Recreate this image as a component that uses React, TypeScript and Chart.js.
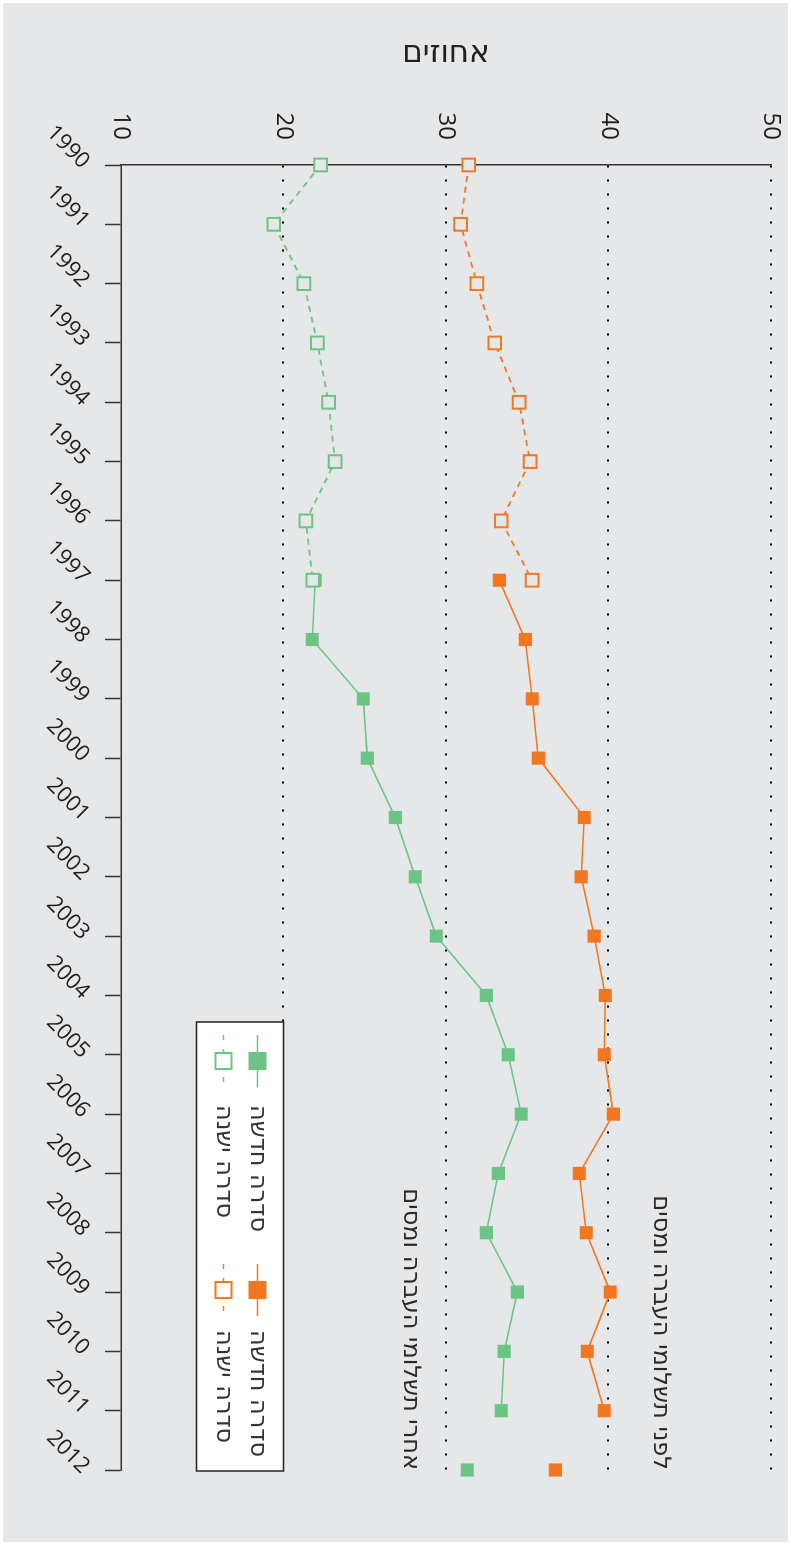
import React, { useEffect, useRef } from 'react';
import { Chart, registerables } from 'chart.js';

Chart.register(...registerables);

// ---------- data ----------
const years = [
  '1990', '1991', '1992', '1993', '1994', '1995', '1996', '1997', '1998', '1999', '2000',
  '2001', '2002', '2003', '2004', '2005', '2006', '2007', '2008', '2009', '2010', '2011', '2012',
];

// after transfer payments and taxes (green)
const greenOld = [22.28, 19.4, 21.26, 22.08, 22.77, 23.17, 21.38, 21.8,
  null, null, null, null, null, null, null, null, null, null, null, null, null, null, null];
const greenNew = [null, null, null, null, null, null, null,
  21.95, 21.77, 24.91, 25.16, 26.88, 28.11, 29.4, 32.48, 33.83, 34.63, 33.22, 32.48, 34.39, 33.58, 33.4, null];
const greenLast = [null, null, null, null, null, null, null, null, null, null, null,
  null, null, null, null, null, null, null, null, null, null, null, 31.31];

// before transfer payments and taxes (orange)
const orangeOld = [31.4, 30.9, 31.9, 33.0, 34.5, 35.17, 33.4, 35.3,
  null, null, null, null, null, null, null, null, null, null, null, null, null, null, null];
const orangeNew = [null, null, null, null, null, null, null,
  33.28, 34.88, 35.31, 35.68, 38.51, 38.32, 39.12, 39.8, 39.74, 40.3, 38.2, 38.63, 40.11, 38.69, 39.74, null];
const orangeLast = [null, null, null, null, null, null, null, null, null, null, null,
  null, null, null, null, null, null, null, null, null, null, null, 36.73];

const yTitle = 'אחוזים';
const legendLabels = ['סדרה חדשה', 'סדרה ישנה'];
const annotationTexts = ['לפני תשלומי העברה ומסים', 'אחרי תשלומי העברה ומסים'];
const annotationValues = [43.2, 27.8];

// ---------- styles ----------
const GREEN = 'rgb(108,196,132)';
const ORANGE = 'rgb(243,119,33)';
const BG = 'rgb(230,231,233)';
const AXIS = '#333';
const TEXT = '#1e1e1e';
const FONT = '"Open Sans", "Liberation Sans", "DejaVu Sans", sans-serif';
const HEB_FONT = '"DejaVu Sans", "Liberation Sans", sans-serif';

const W = 1545;
const H = 791;

const overlay = {
  id: 'overlay',
  beforeDraw(chart: any) {
    const { ctx, width, height } = chart;
    ctx.save();
    ctx.fillStyle = '#fff';
    ctx.fillRect(0, 0, width, height);
    ctx.fillStyle = BG;
    ctx.fillRect(3, 3, width - 6, height - 6);
    ctx.restore();
  },
  afterDraw(chart: any) {
    const { ctx, chartArea } = chart;
    const x = chart.scales.x;
    const y = chart.scales.y;
    ctx.save();
    // annotations
    ctx.font = '24px ' + HEB_FONT;
    ctx.fillStyle = '#2a2a2a';
    ctx.textAlign = 'right';
    ctx.textBaseline = 'middle';
    const xr = x.getPixelForValue(years.length - 1);
    annotationTexts.forEach((t, i) => {
      ctx.fillText(t, xr, y.getPixelForValue(annotationValues[i]));
    });

    // legend box
    const bw = 449;
    const bh = 87;
    const bx = chartArea.right + 1 - bw;
    const by = y.getPixelForValue(20);
    ctx.fillStyle = '#fff';
    ctx.fillRect(bx, by, bw, bh);
    ctx.strokeStyle = '#222';
    ctx.lineWidth = 1.5;
    ctx.strokeRect(bx, by, bw, bh);

    const rows = [by + 26, by + 60];
    const cols = [
      { color: GREEN, mx: bx + 39, tx: bx + 83 },
      { color: ORANGE, mx: bx + 268, tx: bx + 308 },
    ];
    ctx.font = '24px ' + HEB_FONT;
    ctx.textAlign = 'left';
    ctx.textBaseline = 'middle';
    cols.forEach((c) => {
      rows.forEach((ry, ri) => {
        const hollow = ri === 1;
        ctx.save();
        ctx.strokeStyle = c.color;
        ctx.lineWidth = 1.5;
        ctx.setLineDash(hollow ? [5, 9] : []);
        ctx.beginPath();
        ctx.moveTo(c.mx - 26, ry);
        ctx.lineTo(c.mx + 26, ry);
        ctx.stroke();
        ctx.setLineDash([]);
        if (hollow) {
          ctx.fillStyle = '#fff';
          ctx.fillRect(c.mx - 9, ry - 9, 18, 18);
          ctx.lineWidth = 2;
          ctx.strokeRect(c.mx - 8, ry - 8, 16, 16);
        } else {
          ctx.fillStyle = c.color;
          ctx.fillRect(c.mx - 9, ry - 9, 18, 18);
        }
        ctx.restore();
        ctx.fillStyle = '#333';
        ctx.fillText(legendLabels[ri], c.tx, ry);
      });
    });
    ctx.restore();
  },
};

export default function App() {
  const ref = useRef<HTMLCanvasElement>(null);

  useEffect(() => {
    if (!ref.current) return;
    Chart.defaults.font.family = FONT;
    const oldDs = (data: (number | null)[], color: string) => ({
      data,
      borderColor: color,
      borderWidth: 1.8,
      borderDash: [6, 5],
      pointStyle: 'rect',
      pointRadius: 9,
      pointHoverRadius: 9,
      pointBorderWidth: 2,
      pointBorderColor: color,
      pointBackgroundColor: BG,
      spanGaps: false,
    });
    const newDs = (data: (number | null)[], color: string, showLine = true) => ({
      data,
      borderColor: color,
      backgroundColor: color,
      borderWidth: 1.6,
      showLine,
      pointStyle: 'rect',
      pointRadius: 9.3,
      pointHoverRadius: 9.3,
      pointBorderWidth: 0,
      pointBackgroundColor: color,
      spanGaps: false,
    });
    const chart = new Chart(ref.current, {
      type: 'line',
      data: {
        labels: years,
        datasets: [
          oldDs(greenOld, GREEN),
          oldDs(orangeOld, ORANGE),
          newDs(greenNew, GREEN),
          newDs(orangeNew, ORANGE),
          newDs(greenLast, GREEN, false),
          newDs(orangeLast, ORANGE, false),
        ] as any,
      },
      options: {
        responsive: false,
        animation: false,
        devicePixelRatio: 1,
        layout: { padding: { top: 20, right: 75, left: 0, bottom: 0 } },
        events: [],
        plugins: { legend: { display: false }, tooltip: { enabled: false } },
        scales: {
          x: {
            type: 'category',
            offset: false,
            grid: { drawOnChartArea: false, drawTicks: true, tickLength: 16, tickColor: AXIS, tickWidth: 1.5 },
            border: { display: true, color: AXIS, width: 1.5 },
            ticks: { autoSkip: false, minRotation: 45, maxRotation: 45, color: TEXT, font: { size: 22 }, padding: 10 },
            afterFit: (s: any) => { s.height = 121; s.paddingLeft = 0; s.paddingRight = 0; },
          },
          y: {
            min: 10,
            max: 50,
            ticks: { stepSize: 10, color: TEXT, font: { size: 24 }, padding: 25 },
            grid: {
              drawTicks: false,
              lineWidth: 2,
              color: (c: any) => (c.tick && c.tick.value === 10 ? 'rgba(0,0,0,0)' : '#000'),
            },
            border: { display: true, color: AXIS, width: 1.5, dash: [2, 12] },
            title: { display: true, text: yTitle, color: '#222', font: { size: 31, family: HEB_FONT }, padding: { top: 35, bottom: 0 } },
            afterFit: (s: any) => { s.width = 165; s.paddingTop = 0; s.paddingBottom = 0; },
          },
        },
      } as any,
      plugins: [overlay],
    });
    return () => chart.destroy();
  }, []);

  return (
    <div style={{ position: 'fixed', left: 0, top: 0, width: H, height: W, overflow: 'hidden', background: '#fff' }}>
      <div
        style={{
          position: 'absolute',
          left: 0,
          top: 0,
          width: W,
          height: H,
          transformOrigin: '0 0',
          transform: `translateX(${H}px) rotate(90deg)`,
        }}
      >
        <canvas ref={ref} width={W} height={H} style={{ display: 'block', width: W, height: H }} />
      </div>
    </div>
  );
}
